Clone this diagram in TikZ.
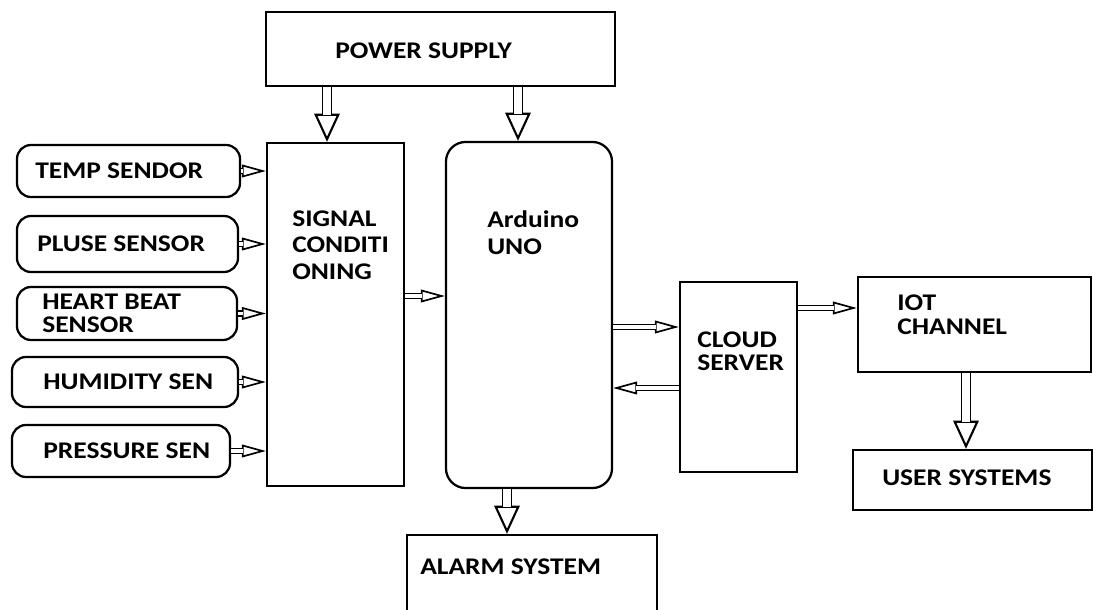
\documentclass[tikz,border=0pt]{standalone}
\usepackage{fontspec}
\setmainfont{Carlito}[FakeStretch=1.15]
\usetikzlibrary{arrows.meta}
\tikzset{
  blk/.style={draw, line width=1.6pt, inner sep=0pt},
  rblk/.style={blk, rounded corners=10pt},
  lbl/.style={anchor=west, align=left, inner sep=0pt, font=\bfseries\fontsize{17}{19}\selectfont},
  big head/.style={line width=1.5pt, -{Triangle[open, length=20pt, width=18pt, fill=white]}},
  big shaft/.style={line width=1.4pt, double distance=5pt, shorten >=19pt},
  small head/.style={line width=1.2pt, -{Triangle[open, length=17pt, width=9pt, fill=white]}},
  small shaft/.style={line width=1.1pt, double distance=2.2pt, shorten >=16pt}
}
% hollow double-line arrow: head first, shaft on top
\newcommand\dblarrow[3][big]{\draw[#1 head] #2 -- #3; \draw[#1 shaft] #2 -- #3;}
\begin{document}
\begin{tikzpicture}[x=0.025cm, y=-0.025cm]
    \useasboundingbox (0,0) rectangle (1093,610);
    \clip (0,0) rectangle (1093,610);
    % blocks
    \node[blk, minimum width=8.725cm, minimum height=1.85cm] (power) at (440.5,49) {};
    \node[lbl] (power-t) at (335,51) {POWER SUPPLY};
    \node[blk, minimum width=3.425cm, minimum height=8.575cm] (sig) at (335.5,314.5) {};
    \node[lbl] (sig-t) at (292,245) {SIGNAL\\CONDITI\\ONING};
    \node[rblk, rounded corners=14pt, minimum width=4.15cm, minimum height=8.65cm] (ard) at (529,315) {};
    \node[lbl] (ard-t) at (487,233) {Arduino\\UNO};
    \node[blk, minimum width=2.925cm, minimum height=4.75cm] (cloud) at (738.5,377) {};
    \node[lbl, font=\bfseries\fontsize{17}{16.5}\selectfont] (cloud-t) at (697,351.5) {CLOUD\\SERVER};
    \node[blk, minimum width=5.825cm, minimum height=2.375cm] (iot) at (974.5,324.5) {};
    \node[lbl, font=\bfseries\fontsize{17}{17}\selectfont] (iot-t) at (897,315) {IOT\\CHANNEL};
    \node[blk, minimum width=5.975cm, minimum height=1.5cm] (user) at (972.5,480) {};
    \node[lbl] (user-t) at (882,478) {USER SYSTEMS};
    \node[blk, minimum width=6.25cm, minimum height=2.625cm] (alarm) at (532,587.5) {};
    \node[lbl] (alarm-t) at (420,567) {ALARM SYSTEM};
    % sensors
    \node[rblk, minimum width=5.575cm, minimum height=1.3cm] (temp) at (128.5,171) {};
    \node[lbl] (temp-t) at (35,171) {TEMP SENDOR};
    \node[rblk, minimum width=5.525cm, minimum height=1.4cm] (pulse) at (127.5,244) {};
    \node[lbl] (pulse-t) at (37,244) {PLUSE SENSOR};
    \node[rblk, minimum width=5.5cm, minimum height=1.325cm] (heart) at (127,313.5) {};
    \node[lbl, font=\bfseries\fontsize{17}{16.3}\selectfont] (heart-t) at (42,313.5) {HEART BEAT\\SENSOR};
    \node[rblk, minimum width=5.65cm, minimum height=1.25cm] (humid) at (125,382) {};
    \node[lbl] (humid-t) at (43,382) {HUMIDITY SEN};
    \node[rblk, minimum width=5.45cm, minimum height=1.3cm] (press) at (121,451) {};
    \node[lbl] (press-t) at (43,451) {PRESSURE SEN};
    % helper coordinates for arrow lines
    \coordinate (v1) at (327,0);
    \coordinate (v2) at (518,0);
    \coordinate (v3) at (507,0);
    \coordinate (v4) at (966,0);
    \coordinate (h1) at (0,296);
    \coordinate (h2) at (0,327);
    \coordinate (h3) at (0,388);
    \coordinate (h4) at (0,308);
    % arrows
    \dblarrow{(power.south -| v1)}{(sig.north -| v1)}
    \dblarrow{(power.south -| v2)}{(ard.north -| v2)}
    \dblarrow{(ard.south -| v3)}{(alarm.north -| v3)}
    \dblarrow{(iot.south -| v4)}{(user.north -| v4)}
    \foreach \s in {temp,pulse,heart,humid,press}
        {\dblarrow[small]{(\s.east)}{(\s.east -| sig.west)}}
    \dblarrow[small]{(sig.east |- h1)}{(ard.west |- h1)}
    \dblarrow[small]{(ard.east |- h2)}{(cloud.west |- h2)}
    \dblarrow[small]{(cloud.west |- h3)}{(ard.east |- h3)}
    \dblarrow[small]{(cloud.east |- h4)}{(iot.west |- h4)}
\end{tikzpicture}
\end{document}
